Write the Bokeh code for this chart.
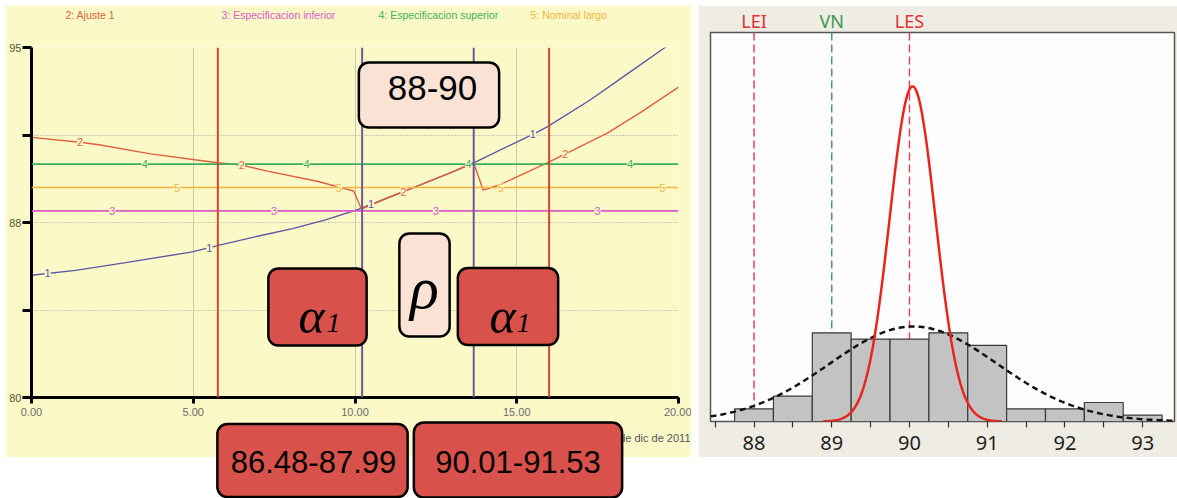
import numpy as np
from bokeh.plotting import figure
from bokeh.models import Range1d, FixedTicker, Span, Label, LabelSet, ColumnDataSource
from bokeh.core.properties import value
from bokeh.embed import file_html
from bokeh.resources import INLINE

# ---------------- Left chart data (simulation run) ----------------
time_ticks = [0, 5, 10, 15, 20]
time_tick_labels = ["0.00", "5.00", "10.00", "15.00", "20.00"]
value_ticks = [80, 83.75, 87.5, 91.25, 95]
value_tick_labels = ["80", "", "88", "", "95"]

# series 1 (blue)
s1_time = [0, 1.36, 2.91, 4.97, 5.78, 7.02, 8.07, 9.09, 10.1, 11.0, 12.0, 13.0,
           13.67, 15.53, 15.94, 17.28, 18.31, 19.55, 20.0]
s1_value = [85.24, 85.45, 85.78, 86.24, 86.52, 86.92, 87.24, 87.61, 88.06, 88.55,
            89.10, 89.66, 90.06, 91.30, 91.60, 92.76, 93.76, 94.97, 95.45]
# series 2: Ajuste 1 (red)
s2_time = [0, 1.5, 2.13, 3.68, 5.22, 5.76, 6.5, 7.29, 8.83, 9.96, 10.2, 11.0, 12.0,
           13.0, 13.67, 13.96, 14.5, 15.94, 16.46, 17.8, 18.83, 20.0]
s2_value = [91.15, 90.94, 90.82, 90.44, 90.16, 90.06, 89.96, 89.70, 89.27, 88.85,
            88.07, 88.55, 89.10, 89.66, 90.06, 88.89, 89.13, 90.06, 90.41, 91.33,
            92.22, 93.30]
spec_lower = 88.0      # 3: Especificacion inferior
spec_nominal = 89.0    # 5: Nominal largo
spec_upper = 90.0      # 4: Especificacion superior
adjust_times = [5.76, 16.0]
cross_times = [10.22, 13.67]
legend_texts = ["2: Ajuste 1", "3: Especificacion inferior",
                "4: Especificacion superior", "5: Nominal largo"]
m1_time = [0.5, 5.5, 10.5, 15.5]
m2_time = [1.5, 6.5, 11.5, 16.5]
m3_time = [2.5, 7.5, 12.5, 17.5]
m4_time = [3.5, 8.5, 13.5, 18.5]
m5_time = [4.5, 9.5, 14.5, 19.5]
axis_note = "de dic de 2011"
range_text = "88-90"
low_text = "86.48-87.99"
high_text = "90.01-91.53"

# ---------------- Right chart data (histogram) ----------------
bin_centers = [88.0, 88.5, 89.0, 89.5, 90.0, 90.5, 91.0, 91.5, 92.0, 92.5, 93.0]
bin_counts = [2, 4, 14, 13, 13, 14, 12, 2, 2, 3, 1]
bin_width = 0.5
overall_mean, overall_sd, overall_peak = 90.05, 1.08, 15.0
within_mean, within_sd, within_peak = 90.04, 0.295, 52.9
limit_values = [88, 89, 90]
limit_names = ["LEI", "VN", "LES"]
hist_ticks = [88, 89, 90, 91, 92, 93]
hist_tick_labels = ["88", "89", "90", "91", "92", "93"]
hist_minor = [87.5, 88.5, 89.5, 90.5, 91.5, 92.5]

# ---------------- styling ----------------
LEFT_BG = "#fcf9c9"
RIGHT_BG = "#efece4"
C1, C2, C3, C4, C5 = "#5b57a5", "#e0603c", "#dc5ac4", "#3fae5c", "#f2b53a"
PEACH, RED = "#fae3d5", "#d8524b"

def pad(l, r, t, b):
    for cand in (dict(left=l, right=r, top=t, bottom=b), (t, r, b, l)):
        try:
            Label(padding=cand)
            return cand
        except Exception:
            pass
    return max(l, t)

def place(left, top):
    return {"position": "absolute", "left": f"{left}px", "top": f"{top}px"}

# ---------------- Left chart ----------------
p = figure(width=686, height=452, x_range=Range1d(0, 20), y_range=Range1d(80, 95),
           output_backend="svg", toolbar_location=None, title=None,
           min_border_left=26, min_border_right=13, min_border_top=42, min_border_bottom=60,
           border_fill_color=LEFT_BG, background_fill_color=LEFT_BG, outline_line_color=None,
           styles=place(5, 5))

p.xaxis.ticker = FixedTicker(ticks=time_ticks)
p.xaxis.major_label_overrides = dict(zip(time_ticks, time_tick_labels))
p.yaxis.ticker = FixedTicker(ticks=value_ticks)
p.yaxis.major_label_overrides = dict(zip(value_ticks, value_tick_labels))
for ax in (p.xaxis[0], p.yaxis[0]):
    ax.axis_line_width = 3
    ax.axis_line_color = "black"
    ax.major_tick_line_width = 3
    ax.major_tick_line_color = "black"
    ax.minor_tick_line_color = None
    ax.major_tick_in = 0
    ax.major_label_text_font = "Liberation Sans"
p.xaxis.major_tick_out = 6
p.xaxis.major_label_standoff = 4
p.xaxis.major_label_text_font_size = "11px"
p.xaxis.major_label_text_color = "#6a6a6a"
p.yaxis.major_tick_out = 9
p.yaxis.major_label_standoff = 1
p.yaxis.major_label_text_font_size = "11px"
p.yaxis.major_label_text_color = "#55553a"
p.xgrid.grid_line_color = "#9a9a9a"
p.xgrid.grid_line_dash = "1 1"
p.ygrid.grid_line_color = "#9a9a9a"
p.ygrid.grid_line_dash = "1 2"

p.line(s1_time, s1_value, line_color=C1, line_width=1.4)
p.line(s2_time, s2_value, line_color=C2, line_width=1.4)

for v, c in ((spec_lower, C3), (spec_nominal, C5), (spec_upper, C4)):
    p.add_layout(Span(location=v, dimension="width", line_color=c, line_width=1.6))
for t in adjust_times:
    p.add_layout(Span(location=t, dimension="height", line_color="#d5472a", line_width=2))
for t in cross_times:
    p.add_layout(Span(location=t, dimension="height", line_color="#6d5a98", line_width=2))

def markers(times, vals, txt, color):
    src = ColumnDataSource(dict(x=list(times), y=list(vals), t=[txt] * len(times)))
    p.add_layout(LabelSet(x="x", y="y", text="t", source=src, text_color=color,
                          text_font=value("Liberation Sans"), text_font_size="11px",
                          text_align="center", text_baseline="middle",
                          background_fill_color=LEFT_BG))

markers(m1_time, np.interp(m1_time, s1_time, s1_value), "1", C1)
markers(m2_time, np.interp(m2_time, s2_time, s2_value), "2", C2)
markers(m3_time, [spec_lower] * 4, "3", C3)
markers(m4_time, [spec_upper] * 4, "4", C4)
markers(m5_time, [spec_nominal] * 4, "5", C5)

# ---------------- Right chart ----------------
RX0, RX1 = 87.44, 93.41
q = figure(width=479, height=452, x_range=Range1d(RX0, RX1), y_range=Range1d(0, 61.4),
           output_backend="svg", toolbar_location=None, title=None, y_axis_location=None,
           min_border_left=12, min_border_right=3, min_border_top=27, min_border_bottom=36,
           border_fill_color=RIGHT_BG, background_fill_color="#fdfdfd",
           outline_line_color="#555555", outline_line_width=1.5,
           styles=place(698, 5))
q.grid.visible = False

limit_colors = ["#d8485a", "#4e9a62", "#d8485a"]
label_colors = ["#e03232", "#3a9a50", "#e03232"]
for v, c in zip(limit_values, limit_colors):
    q.add_layout(Span(location=v, dimension="height", line_color=c, line_dash="8 4",
                      line_width=1.5, level="underlay"))

lefts = [c - bin_width / 2 for c in bin_centers]
rights = [c + bin_width / 2 for c in bin_centers]
q.quad(left=lefts, right=rights, bottom=0, top=bin_counts, fill_color="#c3c3c3",
       line_color="#3a3a3a", line_width=1.2)

xs = np.linspace(RX0, RX1, 240)
q.line(xs, overall_peak * np.exp(-0.5 * ((xs - overall_mean) / overall_sd) ** 2),
       line_color="#111111", line_dash="6 4", line_width=2.5)
xw = np.linspace(within_mean - 3.9 * within_sd, within_mean + 3.9 * within_sd, 160)
q.line(xw, within_peak * np.exp(-0.5 * ((xw - within_mean) / within_sd) ** 2),
       line_color="#e8261c", line_width=2.5)

q.xaxis.ticker = FixedTicker(ticks=hist_ticks, minor_ticks=hist_minor)
q.xaxis.major_label_overrides = dict(zip(hist_ticks, hist_tick_labels))
q.xaxis.axis_line_color = None
q.xaxis.major_tick_out = 6
q.xaxis.major_tick_in = 0
q.xaxis.minor_tick_out = 6
q.xaxis.minor_tick_in = 0
q.xaxis.major_tick_line_color = "#333333"
q.xaxis.minor_tick_line_color = "#333333"
q.xaxis.major_tick_line_width = 1.2
q.xaxis.minor_tick_line_width = 1.2
q.xaxis.major_label_text_font = "Noto Sans"
q.xaxis.major_label_text_font_size = "20px"
q.xaxis.major_label_text_color = "#1e1e1e"
q.xaxis.major_label_standoff = 8

# ---------------- Overlay (page-pixel annotations) ----------------
ov = figure(width=1177, height=498, x_range=Range1d(0, 1177), y_range=Range1d(498, 0),
            output_backend="svg", toolbar_location=None, title=None,
            x_axis_location=None, y_axis_location=None, min_border=0,
            border_fill_color=None, background_fill_color=None, outline_line_color=None,
            styles=place(0, 0))
ov.grid.visible = False

def add_text(px, py, txt, size, font="Liberation Sans", style="normal",
             align="center", baseline="middle", color="black"):
    ov.add_layout(Label(x=px, y=py, text=txt, text_color=color, text_font=font,
                        text_font_size=size, text_font_style=style,
                        text_align=align, text_baseline=baseline))

def add_box(cx, cy, w, h, fill):
    hx = int(round(w / 2))
    hy = int(round((h - 1) / 2))
    ov.add_layout(Label(x=cx, y=cy, text=" ", text_font_size="1px", text_align="center",
                        text_baseline="middle", background_fill_color=fill,
                        border_line_color="black", border_line_width=2.5,
                        border_radius=10, padding=pad(hx, hx, hy, hy)))

# legend along the top of the left chart
for txt, px, c in zip(legend_texts, [65, 221, 378, 530], [C2, C3, C4, C5]):
    add_text(px, 14, txt, "10.5px", align="left", color=c)
add_text(690, 437, axis_note, "11px", align="right", color="#555555")

# spec-limit names above the histogram frame
RF_LEFT, RF_RIGHT = 710, 1174
for v, name, lc in zip(limit_values, limit_names, label_colors):
    px = RF_LEFT + (v - RX0) * (RF_RIGHT - RF_LEFT) / (RX1 - RX0)
    add_text(px, 20, name, "18px", font="Noto Sans", color=lc)

add_box(428.5, 94.5, 139, 65, PEACH)
add_text(432, 87, range_text, "35px")
add_box(424, 284.5, 50, 103, PEACH)
add_text(424, 287, "ρ", "60px", font="Liberation Serif", style="italic", baseline="alphabetic")
add_box(317, 306.5, 98, 77, RED)
add_text(298, 315, "α", "50px", font="Liberation Serif", style="italic", align="left", baseline="alphabetic")
add_text(326, 322, "1", "28px", font="Liberation Serif", style="italic", align="left", baseline="alphabetic")
add_box(507.5, 306, 99, 78, RED)
add_text(489, 315, "α", "50px", font="Liberation Serif", style="italic", align="left", baseline="alphabetic")
add_text(516, 322, "1", "28px", font="Liberation Serif", style="italic", align="left", baseline="alphabetic")
add_box(312, 460, 190, 74, RED)
add_text(313, 461, low_text, "31px")
add_box(517.5, 459.5, 209, 75, RED)
add_text(517.5, 461, high_text, "31px")

open("out.html", "w").write(file_html([p, q, ov], INLINE))
